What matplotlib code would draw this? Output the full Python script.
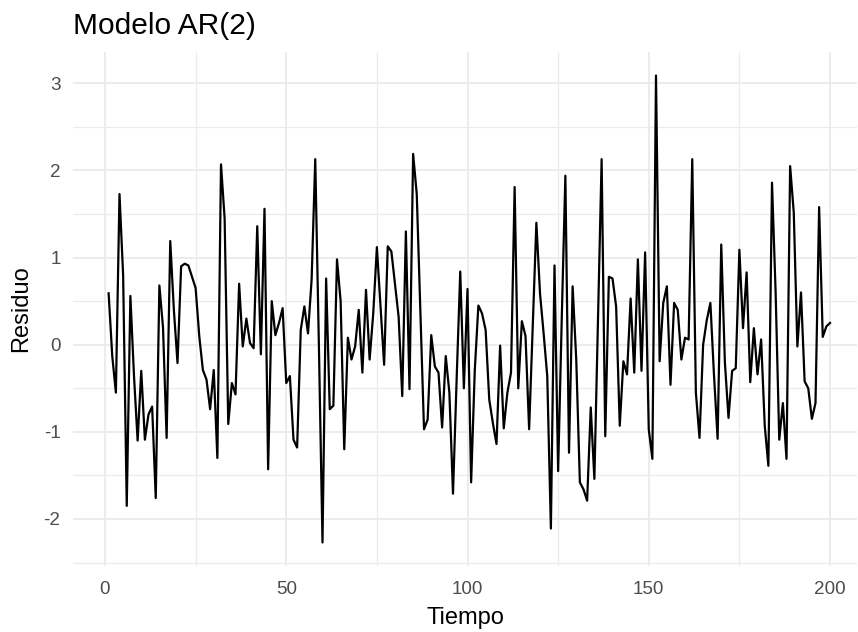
import numpy as np
import matplotlib
matplotlib.use("Agg")
import matplotlib.pyplot as plt
from matplotlib.ticker import MultipleLocator

# residuos (t = 1..200)
tiempo = np.arange(1, 201)
residuo = [
    0.59, -0.13, -0.55, 1.73, 0.80, -1.85, 0.56, -0.36, -1.10, -0.30,
    -1.09, -0.80, -0.71, -1.76, 0.68, 0.20, -1.07, 1.19, 0.40, -0.21,
    0.90, 0.93, 0.91, 0.78, 0.65, 0.10, -0.29, -0.40, -0.74, -0.29,
    -1.30, 2.07, 1.45, -0.91, -0.44, -0.57, 0.70, -0.02, 0.30, 0.02,
    -0.04, 1.36, -0.11, 1.56, -1.43, 0.50, 0.11, 0.25, 0.42, -0.44,
    -0.36, -1.09, -1.18, 0.17, 0.44, 0.13, 0.75, 2.13, 0.00, -2.27,
    0.76, -0.74, -0.70, 0.98, 0.50, -1.20, 0.08, -0.17, -0.02, 0.40,
    -0.32, 0.63, -0.17, 0.36, 1.12, 0.44, -0.23, 1.13, 1.07, 0.70,
    0.32, -0.59, 1.30, -0.51, 2.19, 1.73, 0.40, -0.97, -0.86, 0.11,
    -0.25, -0.32, -0.95, -0.13, -0.55, -1.71, -0.40, 0.84, -0.50, 0.64,
    -1.58, -0.30, 0.45, 0.36, 0.17, -0.63, -0.90, -1.14, -0.01, -0.96,
    -0.55, -0.32, 1.81, -0.50, 0.27, 0.10, -0.97, 0.20, 1.40, 0.59,
    0.13, -0.36, -2.11, 0.91, -1.45, 0.30, 1.94, -1.24, 0.67, -0.17,
    -1.58, -1.66, -1.79, -0.72, -1.54, 0.30, 2.13, -1.05, 0.78, 0.76,
    0.44, -0.93, -0.19, -0.34, 0.53, -0.32, 0.98, -0.30, 1.06, -0.97,
    -1.31, 3.09, -0.19, 0.48, 0.67, -0.46, 0.48, 0.40, -0.17, 0.08,
    0.06, 2.13, -0.55, -1.07, 0.00, 0.28, 0.48, -0.35, -1.08, 1.15,
    -0.20, -0.84, -0.30, -0.27, 1.09, 0.19, 0.83, -0.43, 0.19, -0.34,
    0.06, -0.93, -1.39, 1.86, 0.60, -1.09, -0.67, -1.31, 2.05, 1.52,
    -0.02, 0.60, -0.42, -0.50, -0.85, -0.67, 1.58, 0.09, 0.21, 0.25,
]
x_ticks = [0, 50, 100, 150, 200]
y_ticks = [-2, -1, 0, 1, 2, 3]

plt.rcParams["font.family"] = ["Liberation Sans", "DejaVu Sans"]
plt.rcParams["axes.unicode_minus"] = False

W, H = 858, 632
fig = plt.figure(figsize=(W / 100, H / 100), dpi=100)
# panel en pixeles: izquierda 73, derecha 857, arriba 52, abajo 566
ax = fig.add_axes([73 / W, (H - 566) / H, (857 - 73) / W, (566 - 52) / H])

ax.plot(tiempo, residuo, color="black", lw=1.6)

ax.set_xlim((73 - 105) / 3.625, (857 - 105) / 3.625)
ax.set_ylim(-2.54, 3.36)
ax.set_xticks(x_ticks)
ax.set_yticks(y_ticks)
ax.xaxis.set_minor_locator(MultipleLocator(25))
ax.yaxis.set_minor_locator(MultipleLocator(0.5))

ax.grid(which="major", color="#EBEBEB", lw=1.3)
ax.grid(which="minor", color="#EBEBEB", lw=0.9)
ax.set_axisbelow(True)
for s in ax.spines.values():
    s.set_visible(False)
ax.tick_params(which="both", length=0)
ax.tick_params(axis="x", labelsize=13.6, labelcolor="#4D4D4D", pad=11)
ax.tick_params(axis="y", labelsize=13.6, labelcolor="#4D4D4D", pad=9)

ax.set_xlabel("Tiempo", fontsize=17, labelpad=6)
ax.set_ylabel("Residuo", fontsize=17, labelpad=8)
fig.text(73 / W, 1 - 34 / H, "Modelo AR(2)", fontsize=21.5,
         ha="left", va="baseline")

fig.savefig("out.png", dpi=100)
plt.close(fig)
